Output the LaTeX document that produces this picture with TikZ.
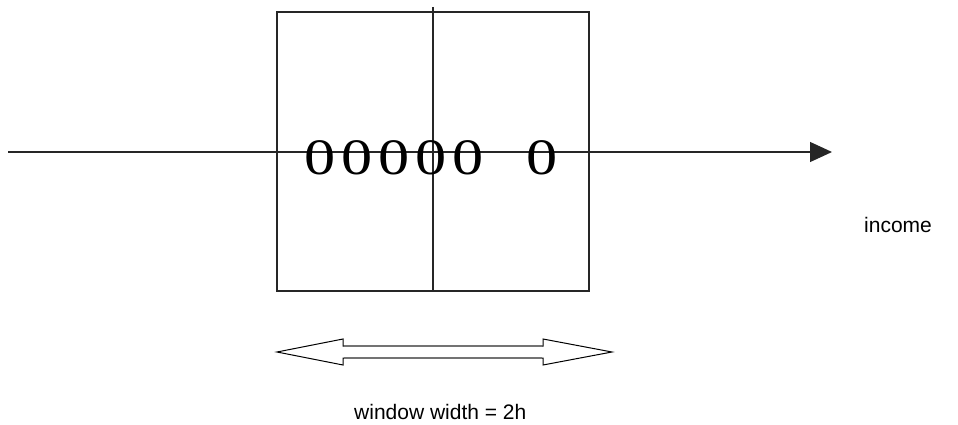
\documentclass[tikz,border=0pt]{standalone}
\usepackage{fontspec}
\setmainfont{Liberation Serif}
\newfontfamily\arialf{Liberation Sans}
\usetikzlibrary{arrows.meta}
\begin{document}
\begin{tikzpicture}[x=1pt,y=-1pt,
  thinline/.style={line width=1.3pt, draw=black!85},
  bigO/.style={anchor=base, inner sep=0pt, xscale=1.22, font=\fontsize{51}{58}\selectfont},
  lbl/.style={anchor=base west, inner sep=0pt, font=\arialf\fontsize{21}{25}\selectfont}]
\useasboundingbox (0,0) rectangle (958,425);
% window box
\coordinate (boxTL) at (277,12);
\coordinate (boxBR) at (589,291);
\draw[thinline] (boxTL) rectangle (boxBR);
\coordinate (vtop) at (433,7);
\coordinate (vbot) at (433,291);
\draw[thinline] (vtop) -- (vbot);
% axis
\coordinate (axL) at (8,152);
\coordinate (axR) at (832,152);
\draw[thinline, -{Triangle[length=22pt,width=20pt]}] (axL) -- (axR);
% observations
\foreach \x/\n in {320/o1,357/o2,394/o3,431/o4,468/o5,542/o6}
  \node[bigO] (\n) at (\x,174) {0};
% labels
\node[lbl] (income) at (864,232) {income};
\node[lbl] (ww) at (354,419) {window width = 2h};
% double hollow arrow
\coordinate (dl) at (277,352);
\coordinate (dr) at (612,352);
\draw[line width=1pt, line join=miter] (dl) -- (343,339) -- (343,346) -- (543,346) -- (543,339) -- (dr)
  -- (543,365) -- (543,358) -- (343,358) -- (343,365) -- cycle;
\draw[line width=1.2pt, draw=black!55] (344,346) -- (542,346) (344,358) -- (542,358);
\end{tikzpicture}
\end{document}
